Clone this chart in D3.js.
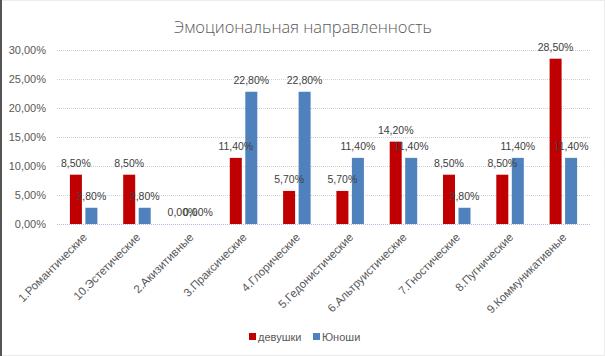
<!DOCTYPE html>
<html><head><meta charset="utf-8">
<script src="https://cdn.jsdelivr.net/npm/d3@7"></script>
<style>
html,body{margin:0;padding:0;background:#fff;}
svg{display:block;font-family:"Liberation Sans",Arial,sans-serif;}
</style></head>
<body>
<svg id="chart" width="605" height="356"></svg>
<script>
const categories = ["1.Романтические","10.Эстетические","2.Акизитивные","3.Праксические","4.Глорические","5.Гедонистические","6.Альтруистические","7.Гностические","8.Пугнические","9.Коммуникативные"];
const girls = [8.5, 8.5, 0, 11.4, 5.7, 5.7, 14.2, 8.5, 8.5, 28.5];
const boys  = [2.8, 2.8, 0, 22.8, 22.8, 11.4, 11.4, 2.8, 11.4, 11.4];
const seriesNames = ["девушки","Юноши"];
const yTicks = [0, 5, 10, 15, 20, 25, 30];
const title = "Эмоциональная направленность";

(function(){
const colors = ["#C00000", "#4F81BD"];
const svg = d3.select("#chart");
const W = 605, H = 356;

svg.append("rect").attr("x",0.5).attr("y",0.5).attr("width",W-1).attr("height",H-1)
  .attr("fill","#fff").attr("stroke","#d9d9d9").attr("stroke-dasharray","1,1");
svg.append("line").attr("x1",1).attr("x2",1).attr("y1",0).attr("y2",H).attr("stroke","#555").attr("stroke-width",2);

const mLeft = 57, mRight = 590, mTop = 50, mBottom = 224;
const x = d3.scaleBand().domain(categories).range([mLeft, mRight]).paddingInner(0).paddingOuter(0);
const y = d3.scaleLinear().domain([0, 30]).range([mBottom, mTop]);

svg.append("text").attr("x", 303).attr("y", 33).attr("text-anchor","middle")
  .attr("font-size", 17).attr("fill","#595959").attr("font-family","'Open Sans',sans-serif").attr("font-weight",300)
  .attr("textLength", 258).attr("lengthAdjust","spacingAndGlyphs")
  .text(title);

svg.append("g").selectAll("line").data(yTicks.filter(d=>d>0)).join("line")
  .attr("x1", mLeft).attr("x2", mRight).attr("y1", d=>Math.round(y(d))+0.5).attr("y2", d=>Math.round(y(d))+0.5)
  .attr("stroke","#d0d0d0").attr("stroke-dasharray","1,1");

const fmt = v => v.toFixed(2).replace(".", ",") + "%";

const yAxis = d3.axisLeft(y).tickValues(yTicks).tickFormat(fmt).tickSize(0).tickPadding(11);
const gy = svg.append("g").attr("transform", `translate(${mLeft},0)`).call(yAxis);
gy.select(".domain").remove();
gy.selectAll("text").attr("font-size", 11).attr("fill","#595959").attr("font-family","'Liberation Sans',sans-serif");

const bw = 12, gap = 3.5;
const series = [girls, boys];
series.forEach((vals, si) => {
  const off = si === 0 ? -gap/2 - bw : gap/2;
  svg.append("g").selectAll("rect").data(categories).join("rect")
    .attr("x", (c) => x(c) + x.bandwidth()/2 + off)
    .attr("y", (c,i) => y(vals[i]))
    .attr("width", bw)
    .attr("height", (c,i) => y(0) - y(vals[i]))
    .attr("fill", colors[si]);
});

svg.append("line").attr("x1", mLeft).attr("x2", mRight).attr("y1", mBottom+0.5).attr("y2", mBottom+0.5)
  .attr("stroke","#b8b8e0").attr("stroke-dasharray","1,1");

series.forEach((vals, si) => {
  const off = si === 0 ? -gap/2 - bw/2 : gap/2 + bw/2;
  svg.append("g").selectAll("text").data(categories).join("text")
    .attr("x", (c) => x(c) + x.bandwidth()/2 + off)
    .attr("y", (c,i) => y(vals[i]) - 8)
    .attr("text-anchor","middle").attr("font-size", 10.5).attr("fill","#404040")
    .text((c,i) => fmt(vals[i]));
});

const xAxis = d3.axisBottom(x).tickSize(0).tickPadding(0);
const gx = svg.append("g").attr("transform", `translate(0,${mBottom})`).call(xAxis);
gx.select(".domain").remove();
gx.selectAll("text")
  .attr("text-anchor","end").attr("font-size", 11.5).attr("fill","#595959")
  .attr("dy", 0).attr("y", 0)
  .attr("transform", "translate(4,14) rotate(-45)");

const lg = svg.append("g");
const legendX = [249, 313];
seriesNames.forEach((n, i) => {
  lg.append("rect").attr("x", legendX[i]).attr("y", 333).attr("width", 7).attr("height", 7).attr("fill", colors[i]);
  lg.append("text").attr("x", legendX[i] + 9).attr("y", 341).attr("font-size", 11).attr("fill","#595959")
    .text(n);
});
})();
</script>
</body></html>
